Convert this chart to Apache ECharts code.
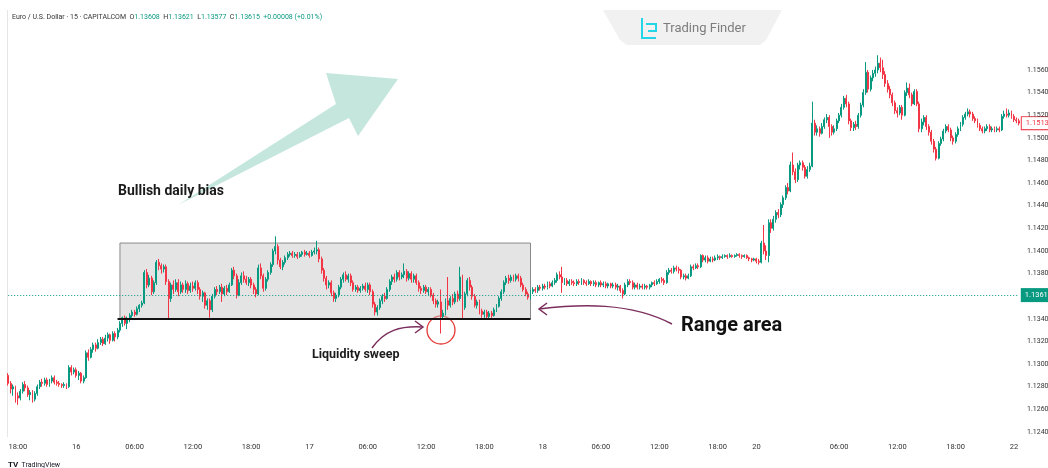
<!DOCTYPE html>
<html>
<head>
<meta charset="utf-8">
<script src="https://cdn.jsdelivr.net/npm/echarts@6/dist/echarts.min.js"></script>
<style>
  html, body { margin: 0; padding: 0; background: #fff; }
  #chart { width: 1048px; height: 468px; }
</style>
</head>
<body>
<div id="chart"></div>
<script>
// EUR/USD 15 minute candles, [open, close, low, high]
const apr15 = [
  [1.1290,1.1283,1.1281,1.1292],[1.1283,1.1278,1.1274,1.1285],[1.1278,1.1280,1.1272,1.1282],[1.1280,1.1272,1.1266,1.1281],
  [1.1272,1.1270,1.1264,1.1275],[1.1270,1.1276,1.1268,1.1278],[1.1276,1.1282,1.1274,1.1284],[1.1282,1.1279,1.1276,1.1285],
  [1.1279,1.1273,1.1271,1.1281],[1.1273,1.1275,1.1268,1.1277],[1.1275,1.1269,1.1266,1.1277],[1.1269,1.1274,1.1267,1.1276],
  [1.1274,1.1280,1.1272,1.1282],[1.1280,1.1284,1.1278,1.1286],[1.1284,1.1283,1.1280,1.1287],[1.1283,1.1286,1.1281,1.1288],
  [1.1286,1.1282,1.1280,1.1288],[1.1282,1.1285,1.1280,1.1287],[1.1285,1.1288,1.1283,1.1290],[1.1288,1.1284,1.1282,1.1290],
  [1.1284,1.1283,1.1281,1.1286],[1.1283,1.1282,1.1280,1.1285],[1.1282,1.1281,1.1279,1.1283],[1.1281,1.1282,1.1279,1.1284],
  [1.1282,1.1280,1.1278,1.1283],[1.1280,1.1297,1.1279,1.1299],[1.1297,1.1293,1.1290,1.1299],[1.1293,1.1295,1.1291,1.1297]
];
const apr16 = [
  [1.1295,1.1290,1.1288,1.1297],[1.1290,1.1292,1.1286,1.1294],[1.1292,1.1285,1.1283,1.1293],[1.1285,1.1288,1.1283,1.1290],
  [1.1288,1.1310,1.1287,1.1312],[1.1310,1.1306,1.1303,1.1313],[1.1306,1.1313,1.1305,1.1315],[1.1313,1.1317,1.1310,1.1319],
  [1.1317,1.1314,1.1311,1.1319],[1.1314,1.1319,1.1313,1.1322],[1.1319,1.1322,1.1317,1.1324],[1.1322,1.1318,1.1316,1.1324],
  [1.1318,1.1323,1.1317,1.1326],[1.1323,1.1326,1.1320,1.1328],[1.1326,1.1321,1.1318,1.1327],[1.1321,1.1327,1.1320,1.1329],
  [1.1327,1.1324,1.1320,1.1329],[1.1324,1.1330,1.1322,1.1332],[1.1330,1.1336,1.1328,1.1338],[1.1336,1.1341,1.1333,1.1342],
  [1.1341,1.1336,1.1334,1.1343],[1.1336,1.1340,1.1331,1.1342],[1.1340,1.1343,1.1337,1.1345],[1.1343,1.1346,1.1341,1.1348],
  [1.1346,1.1344,1.1342,1.1348],[1.1344,1.1349,1.1343,1.1351],[1.1349,1.1352,1.1346,1.1353],[1.1352,1.1354,1.1350,1.1356],
  [1.1354,1.1381,1.1353,1.1383],[1.1381,1.1370,1.1367,1.1384],[1.1370,1.1376,1.1368,1.1379],[1.1376,1.1364,1.1361,1.1378],
  [1.1364,1.1372,1.1362,1.1374],[1.1372,1.1390,1.1370,1.1392],[1.1390,1.1387,1.1383,1.1393],[1.1387,1.1384,1.1380,1.1389],
  [1.1384,1.1386,1.1381,1.1388],[1.1386,1.1373,1.1370,1.1388],[1.1373,1.1358,1.1340,1.1375],[1.1358,1.1370,1.1355,1.1372],
  [1.1370,1.1366,1.1362,1.1374],[1.1366,1.1372,1.1364,1.1375],[1.1372,1.1364,1.1360,1.1375],[1.1364,1.1370,1.1362,1.1373],
  [1.1370,1.1366,1.1363,1.1372],[1.1366,1.1371,1.1363,1.1374],[1.1371,1.1365,1.1362,1.1373],[1.1365,1.1369,1.1363,1.1372],
  [1.1369,1.1367,1.1364,1.1373],[1.1367,1.1372,1.1365,1.1374],[1.1372,1.1366,1.1362,1.1374],[1.1366,1.1360,1.1357,1.1368],
  [1.1360,1.1363,1.1355,1.1365],[1.1363,1.1352,1.1349,1.1364],[1.1352,1.1356,1.1348,1.1358],[1.1356,1.1348,1.1341,1.1358],
  [1.1348,1.1360,1.1346,1.1362],[1.1360,1.1366,1.1358,1.1368],[1.1366,1.1364,1.1361,1.1369],[1.1364,1.1368,1.1362,1.1370],
  [1.1368,1.1362,1.1355,1.1371],[1.1362,1.1367,1.1360,1.1369],[1.1367,1.1364,1.1361,1.1370],[1.1364,1.1370,1.1363,1.1372],
  [1.1370,1.1383,1.1369,1.1385],[1.1383,1.1378,1.1375,1.1386],[1.1378,1.1361,1.1358,1.1380],[1.1361,1.1372,1.1360,1.1375],
  [1.1372,1.1378,1.1370,1.1381],[1.1378,1.1375,1.1372,1.1382],[1.1375,1.1372,1.1370,1.1378],[1.1372,1.1375,1.1369,1.1377],
  [1.1375,1.1370,1.1367,1.1377],[1.1370,1.1366,1.1362,1.1372],[1.1366,1.1362,1.1359,1.1368],[1.1362,1.1385,1.1361,1.1388],
  [1.1385,1.1378,1.1375,1.1389],[1.1378,1.1367,1.1364,1.1380],[1.1367,1.1375,1.1365,1.1377],[1.1375,1.1381,1.1373,1.1383],
  [1.1381,1.1388,1.1379,1.1390],[1.1388,1.1400,1.1386,1.1402],[1.1400,1.1404,1.1397,1.1413],[1.1404,1.1392,1.1388,1.1406],
  [1.1392,1.1386,1.1384,1.1394],[1.1386,1.1390,1.1383,1.1392],[1.1390,1.1394,1.1388,1.1396],[1.1394,1.1397,1.1392,1.1399],
  [1.1397,1.1398,1.1395,1.1400],[1.1398,1.1396,1.1394,1.1400],[1.1396,1.1397,1.1394,1.1399],[1.1397,1.1395,1.1393,1.1399],
  [1.1395,1.1397,1.1394,1.1399],[1.1397,1.1399,1.1395,1.1400],[1.1399,1.1397,1.1395,1.1401],[1.1397,1.1398,1.1396,1.1400]
];
const apr17 = [
  [1.1398,1.1396,1.1394,1.1400],[1.1396,1.1399,1.1395,1.1401],[1.1399,1.1400,1.1397,1.1403],[1.1400,1.1401,1.1397,1.1409],
  [1.1401,1.1393,1.1390,1.1403],[1.1393,1.1383,1.1380,1.1395],[1.1383,1.1376,1.1373,1.1385],[1.1376,1.1370,1.1366,1.1378],
  [1.1370,1.1372,1.1367,1.1374],[1.1372,1.1363,1.1360,1.1374],[1.1363,1.1358,1.1355,1.1365],[1.1358,1.1361,1.1355,1.1363],
  [1.1361,1.1368,1.1359,1.1370],[1.1368,1.1375,1.1366,1.1377],[1.1375,1.1379,1.1372,1.1381],[1.1379,1.1375,1.1373,1.1382],
  [1.1375,1.1378,1.1372,1.1380],[1.1378,1.1372,1.1369,1.1380],[1.1372,1.1366,1.1364,1.1374],[1.1366,1.1368,1.1364,1.1370],
  [1.1368,1.1365,1.1363,1.1370],[1.1365,1.1367,1.1363,1.1369],[1.1367,1.1369,1.1365,1.1371],[1.1369,1.1366,1.1364,1.1372],
  [1.1366,1.1370,1.1363,1.1372],[1.1370,1.1364,1.1361,1.1372],[1.1364,1.1353,1.1350,1.1366],[1.1353,1.1346,1.1343,1.1355],
  [1.1346,1.1350,1.1343,1.1352],[1.1350,1.1356,1.1348,1.1358],[1.1356,1.1360,1.1353,1.1362],[1.1360,1.1358,1.1355,1.1363],
  [1.1358,1.1366,1.1357,1.1368],[1.1366,1.1373,1.1364,1.1375],[1.1373,1.1377,1.1370,1.1379],[1.1377,1.1375,1.1372,1.1380],
  [1.1375,1.1381,1.1373,1.1383],[1.1381,1.1377,1.1374,1.1383],[1.1377,1.1379,1.1375,1.1381],[1.1379,1.1382,1.1376,1.1389],
  [1.1382,1.1376,1.1373,1.1384],[1.1376,1.1380,1.1374,1.1382],[1.1380,1.1375,1.1372,1.1382],[1.1375,1.1378,1.1372,1.1380],
  [1.1378,1.1372,1.1370,1.1380],[1.1372,1.1367,1.1364,1.1374],[1.1367,1.1365,1.1362,1.1369],[1.1365,1.1368,1.1363,1.1370],
  [1.1368,1.1364,1.1362,1.1370],[1.1364,1.1366,1.1361,1.1368],[1.1366,1.1361,1.1359,1.1368],[1.1361,1.1356,1.1353,1.1363],
  [1.1356,1.1353,1.1350,1.1358],[1.1353,1.1355,1.1350,1.1357],[1.1355,1.1342,1.1327,1.1366],[1.1342,1.1345,1.1339,1.1348],
  [1.1345,1.1356,1.1343,1.1358],[1.1356,1.1352,1.1348,1.1377],[1.1352,1.1358,1.1350,1.1360],[1.1358,1.1355,1.1352,1.1362],
  [1.1355,1.1362,1.1353,1.1364],[1.1362,1.1358,1.1355,1.1365],[1.1358,1.1377,1.1356,1.1386],[1.1377,1.1350,1.1339,1.1379],
  [1.1350,1.1362,1.1348,1.1364],[1.1362,1.1374,1.1360,1.1376],[1.1374,1.1368,1.1365,1.1377],[1.1368,1.1360,1.1357,1.1370],
  [1.1360,1.1352,1.1350,1.1362],[1.1352,1.1355,1.1349,1.1357],[1.1355,1.1347,1.1344,1.1357],[1.1347,1.1344,1.1341,1.1349],
  [1.1344,1.1346,1.1341,1.1348],[1.1346,1.1342,1.1340,1.1348],[1.1342,1.1345,1.1340,1.1347],[1.1345,1.1343,1.1341,1.1347],
  [1.1343,1.1348,1.1342,1.1350],[1.1348,1.1351,1.1346,1.1353],[1.1351,1.1358,1.1350,1.1360],[1.1358,1.1364,1.1356,1.1366],
  [1.1364,1.1372,1.1362,1.1374],[1.1372,1.1376,1.1370,1.1378],[1.1376,1.1374,1.1371,1.1379],[1.1374,1.1377,1.1372,1.1379],
  [1.1377,1.1375,1.1373,1.1379],[1.1375,1.1378,1.1373,1.1380],[1.1378,1.1376,1.1373,1.1380],[1.1376,1.1370,1.1368,1.1378],
  [1.1370,1.1366,1.1364,1.1372],[1.1366,1.1362,1.1360,1.1368],[1.1362,1.1359,1.1357,1.1364],[1.1359,1.1364,1.1357,1.1366],
  [1.1364,1.1366,1.1362,1.1368],[1.1366,1.1365,1.1363,1.1368],[1.1365,1.1368,1.1363,1.1370],[1.1368,1.1367,1.1365,1.1370]
];
const apr18 = [
  [1.1367,1.1369,1.1365,1.1371],[1.1369,1.1368,1.1366,1.1371],[1.1368,1.1371,1.1366,1.1373],[1.1371,1.1369,1.1367,1.1373],
  [1.1369,1.1372,1.1368,1.1374],[1.1372,1.1374,1.1370,1.1376],[1.1374,1.1379,1.1372,1.1381],[1.1379,1.1377,1.1375,1.1382],
  [1.1377,1.1372,1.1363,1.1386],[1.1372,1.1374,1.1370,1.1376],[1.1374,1.1371,1.1369,1.1376],[1.1371,1.1373,1.1369,1.1375],
  [1.1373,1.1372,1.1370,1.1375],[1.1372,1.1371,1.1369,1.1374],[1.1371,1.1373,1.1369,1.1375],[1.1373,1.1372,1.1370,1.1375],
  [1.1372,1.1374,1.1370,1.1376],[1.1374,1.1372,1.1370,1.1375],[1.1372,1.1371,1.1369,1.1374],[1.1371,1.1373,1.1370,1.1375],
  [1.1373,1.1371,1.1369,1.1374],[1.1371,1.1372,1.1369,1.1374],[1.1372,1.1370,1.1368,1.1374],[1.1370,1.1372,1.1368,1.1373],
  [1.1372,1.1370,1.1368,1.1374],[1.1370,1.1371,1.1368,1.1373],[1.1371,1.1369,1.1367,1.1373],[1.1369,1.1371,1.1367,1.1372],
  [1.1371,1.1369,1.1367,1.1372],[1.1369,1.1370,1.1367,1.1372],[1.1370,1.1368,1.1366,1.1372],[1.1368,1.1369,1.1365,1.1371],
  [1.1369,1.1365,1.1363,1.1370],[1.1365,1.1362,1.1358,1.1367],[1.1362,1.1370,1.1361,1.1372],[1.1370,1.1373,1.1368,1.1375],
  [1.1373,1.1372,1.1370,1.1375],[1.1372,1.1368,1.1366,1.1374],[1.1368,1.1370,1.1366,1.1372],[1.1370,1.1368,1.1366,1.1372],
  [1.1368,1.1369,1.1366,1.1371],[1.1369,1.1368,1.1366,1.1371],[1.1368,1.1369,1.1366,1.1371],[1.1369,1.1368,1.1366,1.1370],
  [1.1368,1.1370,1.1366,1.1371],[1.1370,1.1372,1.1368,1.1373],[1.1372,1.1371,1.1369,1.1374],[1.1371,1.1373,1.1370,1.1375],
  [1.1373,1.1375,1.1371,1.1376],[1.1375,1.1374,1.1372,1.1377],[1.1374,1.1372,1.1370,1.1376],[1.1372,1.1381,1.1371,1.1383],
  [1.1381,1.1383,1.1379,1.1385],[1.1383,1.1382,1.1380,1.1385],[1.1382,1.1385,1.1380,1.1387],[1.1385,1.1384,1.1382,1.1387],
  [1.1384,1.1383,1.1380,1.1386],[1.1383,1.1377,1.1375,1.1384],[1.1377,1.1378,1.1375,1.1380],[1.1378,1.1376,1.1374,1.1380],
  [1.1376,1.1378,1.1375,1.1380],[1.1378,1.1386,1.1377,1.1388],[1.1386,1.1385,1.1383,1.1388],[1.1385,1.1387,1.1384,1.1389],
  [1.1387,1.1386,1.1384,1.1389],[1.1386,1.1396,1.1385,1.1397],[1.1396,1.1392,1.1390,1.1397],[1.1392,1.1394,1.1390,1.1396],
  [1.1394,1.1391,1.1389,1.1396],[1.1391,1.1393,1.1390,1.1395],[1.1393,1.1392,1.1390,1.1395],[1.1392,1.1394,1.1391,1.1396],
  [1.1394,1.1395,1.1392,1.1397],[1.1395,1.1394,1.1392,1.1396],[1.1394,1.1395,1.1393,1.1397],[1.1395,1.1396,1.1394,1.1397],
  [1.1396,1.1395,1.1393,1.1397],[1.1395,1.1396,1.1394,1.1398],[1.1396,1.1395,1.1394,1.1397],[1.1395,1.1396,1.1394,1.1397],
  [1.1396,1.1397,1.1395,1.1398],[1.1397,1.1396,1.1394,1.1398],[1.1396,1.1395,1.1393,1.1397],[1.1395,1.1396,1.1394,1.1397],
  [1.1396,1.1394,1.1393,1.1397],[1.1394,1.1393,1.1391,1.1395],[1.1393,1.1392,1.1390,1.1394],[1.1392,1.1393,1.1391,1.1394]
];
const apr20 = [
  [1.1393,1.1391,1.1389,1.1394],[1.1391,1.1390,1.1388,1.1393],[1.1390,1.1407,1.1389,1.1409],[1.1407,1.1400,1.1397,1.1423],
  [1.1400,1.1396,1.1392,1.1405],[1.1396,1.1425,1.1390,1.1428],[1.1425,1.1420,1.1416,1.1428],[1.1420,1.1428,1.1418,1.1431],
  [1.1428,1.1434,1.1425,1.1436],[1.1434,1.1432,1.1429,1.1437]
];
const apr21 = [
  [1.1432,1.1441,1.1430,1.1443],[1.1441,1.1447,1.1438,1.1449],[1.1447,1.1456,1.1445,1.1458],[1.1456,1.1453,1.1450,1.1460],
  [1.1453,1.1476,1.1452,1.1479],[1.1476,1.1470,1.1467,1.1487],[1.1470,1.1463,1.1460,1.1473],[1.1463,1.1476,1.1461,1.1478],
  [1.1476,1.1478,1.1472,1.1480],[1.1478,1.1474,1.1471,1.1480],[1.1474,1.1466,1.1464,1.1476],[1.1466,1.1472,1.1464,1.1475],
  [1.1472,1.1475,1.1470,1.1478],[1.1475,1.1513,1.1474,1.1532],[1.1513,1.1505,1.1502,1.1516],[1.1505,1.1508,1.1502,1.1511],
  [1.1508,1.1504,1.1501,1.1510],[1.1504,1.1510,1.1503,1.1513],[1.1510,1.1516,1.1508,1.1518],[1.1516,1.1518,1.1513,1.1521],
  [1.1518,1.1510,1.1500,1.1520],[1.1510,1.1505,1.1502,1.1512],[1.1505,1.1508,1.1503,1.1511],[1.1508,1.1515,1.1506,1.1517],
  [1.1515,1.1520,1.1513,1.1522],[1.1520,1.1527,1.1518,1.1530],[1.1527,1.1535,1.1525,1.1537],[1.1535,1.1530,1.1527,1.1538],
  [1.1530,1.1515,1.1512,1.1532],[1.1515,1.1509,1.1506,1.1517],[1.1509,1.1512,1.1506,1.1514],[1.1512,1.1510,1.1507,1.1515],
  [1.1510,1.1520,1.1508,1.1522],[1.1520,1.1529,1.1518,1.1531],[1.1529,1.1540,1.1527,1.1543],[1.1540,1.1558,1.1538,1.1567],
  [1.1558,1.1543,1.1540,1.1560],[1.1543,1.1553,1.1541,1.1555],[1.1553,1.1557,1.1550,1.1560],[1.1557,1.1560,1.1554,1.1563],
  [1.1560,1.1566,1.1557,1.1573],[1.1566,1.1562,1.1558,1.1571],[1.1562,1.1556,1.1552,1.1569],[1.1556,1.1548,1.1545,1.1559],
  [1.1548,1.1543,1.1540,1.1551],[1.1543,1.1538,1.1535,1.1546],[1.1538,1.1531,1.1528,1.1540],[1.1531,1.1524,1.1521,1.1533],
  [1.1524,1.1522,1.1518,1.1527],[1.1522,1.1527,1.1520,1.1529],[1.1527,1.1520,1.1516,1.1529],[1.1520,1.1540,1.1519,1.1542],
  [1.1540,1.1544,1.1537,1.1549],[1.1544,1.1538,1.1535,1.1548],[1.1538,1.1530,1.1528,1.1540],[1.1530,1.1541,1.1529,1.1543],
  [1.1541,1.1530,1.1528,1.1543],[1.1530,1.1508,1.1505,1.1532],[1.1508,1.1514,1.1505,1.1517],[1.1514,1.1518,1.1511,1.1520],
  [1.1518,1.1510,1.1507,1.1520],[1.1510,1.1505,1.1502,1.1512],[1.1505,1.1497,1.1494,1.1507],[1.1497,1.1490,1.1487,1.1499],
  [1.1490,1.1482,1.1480,1.1492],[1.1482,1.1495,1.1481,1.1497],[1.1495,1.1499,1.1493,1.1501],[1.1499,1.1506,1.1497,1.1508],
  [1.1506,1.1510,1.1504,1.1512],[1.1510,1.1507,1.1505,1.1512],[1.1507,1.1500,1.1497,1.1509],[1.1500,1.1497,1.1494,1.1502],
  [1.1497,1.1503,1.1495,1.1505],[1.1503,1.1508,1.1501,1.1510],[1.1508,1.1512,1.1506,1.1514],[1.1512,1.1518,1.1510,1.1520],
  [1.1518,1.1521,1.1516,1.1523],[1.1521,1.1523,1.1519,1.1526],[1.1523,1.1521,1.1518,1.1525],[1.1521,1.1517,1.1515,1.1523],
  [1.1517,1.1515,1.1513,1.1519],[1.1515,1.1511,1.1509,1.1517],[1.1511,1.1508,1.1506,1.1513],[1.1508,1.1506,1.1504,1.1510],
  [1.1506,1.1508,1.1504,1.1510],[1.1508,1.1510,1.1506,1.1512],[1.1510,1.1507,1.1505,1.1512],[1.1507,1.1508,1.1505,1.1510],
  [1.1508,1.1507,1.1505,1.1510],[1.1507,1.1508,1.1505,1.1510],[1.1508,1.1507,1.1505,1.1510],[1.1507,1.1519,1.1506,1.1521],
  [1.1519,1.1521,1.1517,1.1524],[1.1521,1.1520,1.1518,1.1526],[1.1520,1.1522,1.1518,1.1525],[1.1522,1.1519,1.1517,1.1524]
];
const apr22 = [
  [1.1519,1.1516,1.1514,1.1521],[1.1516,1.1515,1.1513,1.1518],[1.1515,1.1513,1.1511,1.1517]
];

const sessions = [
  { day: '04-15', start: '17:00', bars: apr15 },
  { day: '04-16', start: '00:00', bars: apr16 },
  { day: '04-17', start: '00:00', bars: apr17 },
  { day: '04-18', start: '00:00', bars: apr18 },
  { day: '04-20', start: '21:30', bars: apr20 },
  { day: '04-21', start: '00:00', bars: apr21 },
  { day: '04-22', start: '00:00', bars: apr22 }
];

// bottom time scale labels
const xTicks = [
  ['04-15 18:00', '18:00'], ['04-16 00:00', '16'], ['04-16 06:00', '06:00'], ['04-16 12:00', '12:00'],
  ['04-16 18:00', '18:00'], ['04-17 00:00', '17'], ['04-17 06:00', '06:00'], ['04-17 12:00', '12:00'],
  ['04-17 18:00', '18:00'], ['04-18 00:00', '18'], ['04-18 06:00', '06:00'], ['04-18 12:00', '12:00'],
  ['04-18 18:00', '18:00'], ['04-20 21:30', '20'], ['04-21 06:00', '06:00'], ['04-21 12:00', '12:00'],
  ['04-21 18:00', '18:00'], ['04-22 00:00', '22']
];

const rangeHigh = 1.1407;
const rangeLow = 1.1340;
const rangeStart = '04-16 04:30';
const rangeEnd = '04-17 22:45';
const crossPrice = 1.1361;
const lastPrice = 1.1513;

const categories = [];
const candles = [];
sessions.forEach(s => {
  let [h, m] = s.start.split(':').map(Number);
  s.bars.forEach(b => {
    categories.push(s.day + ' ' + String(h).padStart(2, '0') + ':' + String(m).padStart(2, '0'));
    candles.push(b);
    m += 15;
    if (m === 60) { m = 0; h += 1; }
  });
});
const tickMap = {};
xTicks.forEach(t => { tickMap[t[0]] = t[1]; });
const firstCat = categories[0];
const lastCat = categories[categories.length - 1];

const UP = '#089981';
const DOWN = '#F23645';
const FONT = 'Roboto';

const chart = echarts.init(document.getElementById('chart'));
chart.setOption({
  animation: false,
  backgroundColor: '#ffffff',
  grid: { left: 7, right: 28, top: 10, bottom: 36, outerBoundsMode: 'none', containLabel: false },
  xAxis: {
    type: 'category',
    data: categories,
    boundaryGap: true,
    axisLine: { show: false },
    axisTick: { show: false },
    splitLine: { show: false },
    axisLabel: {
      interval: (i, v) => tickMap[v] !== undefined,
      formatter: v => tickMap[v] || '',
      color: '#333',
      fontSize: 7.5,
      fontFamily: FONT,
      margin: 11
    }
  },
  yAxis: {
    type: 'value',
    position: 'right',
    scale: true,
    min: 1.124,
    max: 1.1613,
    interval: 0.002,
    axisLine: { show: false },
    axisTick: { show: false },
    splitLine: { show: false },
    axisLabel: {
      formatter: v => (v > 1.157 ? '' : v.toFixed(4)),
      showMaxLabel: false,
      showMinLabel: true,
      color: '#333',
      fontSize: 7,
      fontFamily: FONT,
      margin: 7
    }
  },
  series: [{
    type: 'candlestick',
    data: candles,
    barWidth: '60%',
    itemStyle: { color: UP, color0: DOWN, borderColor: UP, borderColor0: DOWN, borderWidth: 1 },
    markArea: {
      silent: true,
      itemStyle: { color: 'rgba(205,205,205,0.55)', borderColor: '#8a8a8a', borderWidth: 1 },
      data: [[{ xAxis: rangeStart, yAxis: rangeHigh }, { xAxis: rangeEnd, yAxis: rangeLow }]]
    },
    markLine: {
      silent: true,
      symbol: ['none', 'none'],
      data: [
        [{ coord: ['04-16 04:15', rangeLow], lineStyle: { color: '#111', width: 2, type: 'solid' }, label: { show: false } },
         { coord: [rangeEnd, rangeLow] }],
        [{ coord: [firstCat, crossPrice], lineStyle: { color: UP, width: 1, type: [1, 2] },
           label: { show: true, position: 'end', distance: 2, formatter: '1.1361', backgroundColor: UP,
                    color: '#fff', fontSize: 7.5, fontFamily: FONT, padding: [3, 4, 3, 4] } },
         { coord: [lastCat, crossPrice] }]
      ]
    }
  }],
  graphic: [
    // left pane border
    { type: 'line', shape: { x1: 7.5, y1: 10, x2: 7.5, y2: 437 }, style: { stroke: '#e6e6e6', lineWidth: 1 } },
    // header
    { type: 'text', left: 12, top: 14, style: {
      text: '{n|Euro / U.S. Dollar · 15 · CAPITALCOM}  {n|O}{v|1.13608}  {n|H}{v|1.13621}  {n|L}{v|1.13577}  {n|C}{v|1.13615}  {v|+0.00008 (+0.01%)}',
      font: '7px ' + FONT,
      rich: { n: { fill: '#333', fontSize: 7, fontFamily: FONT }, v: { fill: UP, fontSize: 7, fontFamily: FONT } }
    } },
    // Trading Finder tab
    { type: 'polygon', shape: { points: [[603, 10], [782, 10], [766, 40], [760, 45], [627, 45], [620, 40]] },
      style: { fill: '#f1f1f1' } },
    { type: 'polyline', shape: { points: [[642, 18], [642, 38], [656, 38]] }, style: { stroke: '#23d5e6', lineWidth: 2, fill: null } },
    { type: 'polyline', shape: { points: [[646, 24], [656, 24], [656, 31], [648, 31]] }, style: { stroke: '#23d5e6', lineWidth: 2, fill: null } },
    { type: 'text', left: 663, top: 22, style: { text: 'Trading Finder', font: '13px ' + FONT, fill: '#7d7d7d' } },
    // big bias arrow
    { type: 'polygon', shape: { points: [[178, 205], [336, 104], [326, 73], [398, 79], [358, 136], [349, 118]] },
      style: { fill: 'rgba(176,222,210,0.75)' } },
    { type: 'text', left: 118, top: 184, style: { text: 'Bullish daily bias', font: 'bold 14px ' + FONT, fill: '#1b1b1b' } },
    // liquidity sweep
    { type: 'circle', shape: { cx: 441, cy: 330, r: 14 }, style: { fill: null, stroke: '#e53935', lineWidth: 1.3 } },
    { type: 'text', left: 312, top: 348, style: { text: 'Liquidity sweep', font: 'bold 12.5px ' + FONT, fill: '#1b1b1b' } },
    { type: 'bezierCurve', shape: { x1: 372, y1: 348, cpx1: 385, cpy1: 330, cpx2: 400, cpy2: 326, x2: 422, y2: 327 },
      style: { stroke: '#7b2d5c', lineWidth: 1.5, fill: null } },
    { type: 'polyline', shape: { points: [[415, 321], [423, 327], [415, 333]] }, style: { stroke: '#7b2d5c', lineWidth: 1.5, fill: null } },
    // range area
    { type: 'text', left: 681, top: 316, style: { text: 'Range area', font: 'bold 20px ' + FONT, fill: '#111' } },
    { type: 'bezierCurve', shape: { x1: 672, y1: 324, cpx1: 630, cpy1: 302, cpx2: 580, cpy2: 304, x2: 539, y2: 309 },
      style: { stroke: '#7b2d5c', lineWidth: 1.5, fill: null } },
    { type: 'polyline', shape: { points: [[547, 303], [539, 309], [547, 315]] }, style: { stroke: '#7b2d5c', lineWidth: 1.5, fill: null } },
    // TradingView mark
    { type: 'text', left: 8, top: 459, style: { text: '{b|TV} {t|TradingView}',
      rich: { b: { font: 'bold 8px ' + FONT, fill: '#131722' }, t: { font: '7px ' + FONT, fill: '#131722' } } } }
  ]
});

// last price tag on the price scale
const tagY = chart.convertToPixel({ yAxisIndex: 0 }, lastPrice);
const tagX = chart.convertToPixel({ xAxisIndex: 0 }, lastCat);
chart.setOption({
  graphic: [{
    type: 'text', id: 'lastTag', x: tagX + 3, y: tagY, style: {
      text: lastPrice.toFixed(4), font: '7.5px ' + FONT, fill: DOWN, verticalAlign: 'middle',
      backgroundColor: '#fff', borderColor: DOWN, borderWidth: 1, padding: [2, 4, 2, 4]
    }
  }]
});
</script>
</body>
</html>
